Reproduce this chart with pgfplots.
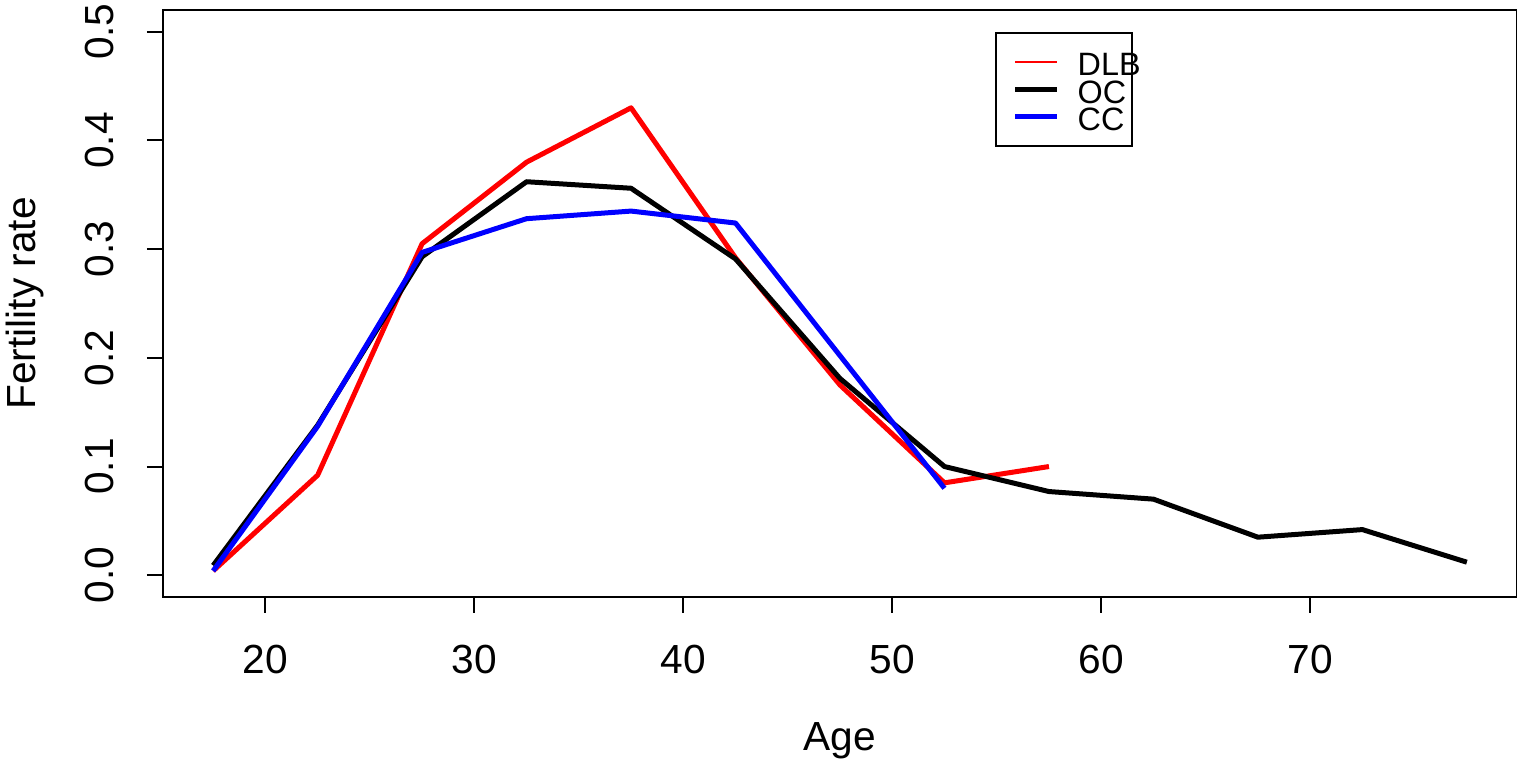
\documentclass[border=0pt]{standalone}
\usepackage{fontspec}
\setmainfont{Liberation Sans}
\usepackage{pgfplots}
\pgfplotsset{compat=1.18}
\begin{document}
\begin{tikzpicture}
\begin{axis}[
  scale only axis,
  width=406.2pt, height=176.1pt,
  xmin=15.1, xmax=79.9, ymin=-0.02, ymax=0.52,
  axis line style={line width=0.6pt},
  xtick={20,30,40,50,60,70},
  ytick={0,0.1,0.2,0.3,0.4,0.5},
  yticklabels={0.0,0.1,0.2,0.3,0.4,0.5},
  tick align=outside, tick pos=left,
  major tick length=4.8pt,
  tick style={line width=0.6pt, black},
  /pgf/number format/assume math mode=true,
  ticklabel style={font=\fontsize{12.2}{14}\selectfont},
  xticklabel style={anchor=center, yshift=-14.1pt},
  yticklabel style={rotate=90, anchor=center, yshift=14.1pt},
  xlabel={Age}, ylabel={Fertility rate},
  label style={font=\fontsize{12.2}{14}\selectfont},
  xlabel style={at={(rel axis cs:0.5,0)}, anchor=center, yshift=-43.2pt},
  ylabel style={at={(rel axis cs:0,0.5)}, anchor=center, yshift=41.5pt},
  legend style={at={(rel axis cs:0.6145,0.9625)}, anchor=north west,
    font=\fontsize{9.7}{8.25}\selectfont, draw=black, line width=0.6pt,
    inner xsep=5pt, inner ysep=4.575pt, row sep=0pt,
    nodes={inner ysep=0pt, inner xsep=0pt, text height=8.2pt, text depth=0.05pt}},
  legend cell align=left,
  legend image code/.code={\draw[#1] (0pt,0pt) -- (12.6pt,0pt);},
  every axis plot/.append style={line width=1.5pt, line join=round},
]
\addplot[red, forget plot] coordinates {(17.5,0.004)(22.5,0.092)(27.5,0.305)(32.5,0.380)(37.5,0.430)(42.5,0.292)(47.5,0.175)(52.5,0.085)(57.5,0.100)};
\addplot[black, forget plot] coordinates {(17.5,0.009)(22.5,0.138)(27.5,0.293)(32.5,0.362)(37.5,0.356)(42.5,0.291)(47.5,0.181)(52.5,0.100)(57.5,0.077)(62.5,0.070)(67.5,0.035)(72.5,0.042)(77.5,0.012)};
\addplot[blue, forget plot] coordinates {(17.5,0.004)(22.5,0.137)(27.5,0.297)(32.5,0.328)(37.5,0.335)(42.5,0.324)(47.5,0.202)(52.5,0.080)};
\addlegendimage{red, line width=0.6pt}
\addlegendentry{\hspace{5.4pt}\makebox[11.4pt][l]{DLB}}
\addlegendimage{black, line width=1.5pt}
\addlegendentry{\hspace{5.4pt}\makebox[11.4pt][l]{OC}}
\addlegendimage{blue, line width=1.5pt}
\addlegendentry{\hspace{5.4pt}\makebox[11.4pt][l]{CC}}
\end{axis}
\pgfresetboundingbox
\path[use as bounding box] ([xshift=-48.9pt,yshift=-49.8pt]current axis.south west) rectangle ([yshift=3pt]current axis.north east);
\end{tikzpicture}
\end{document}
